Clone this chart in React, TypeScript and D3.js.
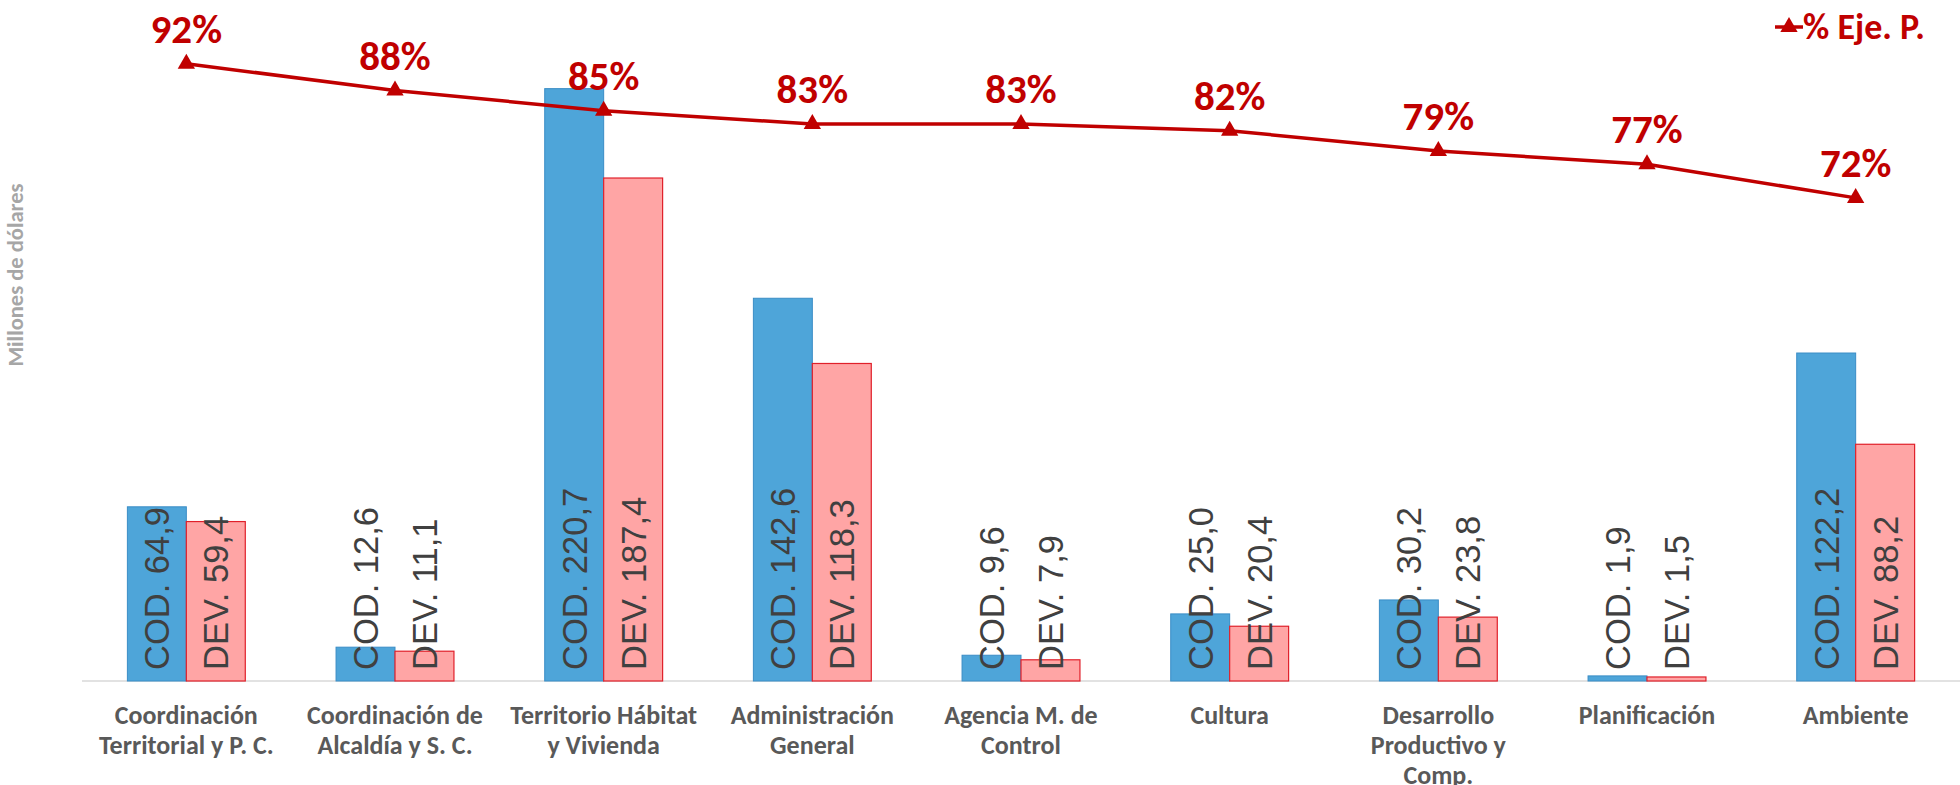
import React from "react";
import * as d3 from "d3";

const categories: string[][] = [
  ["Coordinación", "Territorial y P. C."],
  ["Coordinación de", "Alcaldía y S. C."],
  ["Territorio Hábitat", "y Vivienda"],
  ["Administración", "General"],
  ["Agencia M. de", "Control"],
  ["Cultura"],
  ["Desarrollo", "Productivo y", "Comp."],
  ["Planificación"],
  ["Ambiente"],
];
const codValues = [64.9, 12.6, 220.7, 142.6, 9.6, 25.0, 30.2, 1.9, 122.2];
const devValues = [59.4, 11.1, 187.4, 118.3, 7.9, 20.4, 23.8, 1.5, 88.2];
const pctValues = [92, 88, 85, 83, 83, 82, 79, 77, 72];
const seriesNames = ["COD.", "DEV."];
const lineName = "% Eje. P.";
const yTitle = "Millones de dólares";

const W = 1960;
const H = 785;
const BASE = 681;
const TOP = 10;
const LEFT = 82;
const RIGHT = 1960;

const fmt = (v: number) => v.toFixed(1).replace(".", ",");

export default function App() {
  const ids = categories.map((_, i) => String(i));
  const x = d3.scaleBand<string>().domain(ids).range([LEFT, RIGHT]).paddingInner(0.435).paddingOuter(0.2175);
  const xi = d3.scaleBand<string>().domain(["cod", "dev"]).range([0, x.bandwidth()]);
  const y = d3.scaleLinear().domain([0, 250]).range([BASE, TOP]);
  const y2 = d3.scaleLinear().domain([0, 100]).range([BASE, TOP]);
  const cx = (i: number) => (x(String(i)) as number) + x.bandwidth() / 2;
  const line = d3.line<number>().x((_, i) => cx(i)).y((d) => y2(d));
  const tri = d3.symbol().type(d3.symbolTriangle).size(130)() as string;

  const bold = "Carlito, Calibri, 'Liberation Sans Narrow', Lato, sans-serif";
  const red = "#C00000";

  return (
    <svg width={W} height={H} style={{ position: "absolute", left: 0, top: 0, background: "#fff" }}>
      <rect width={W} height={H} fill="#fff" />
      <text
        transform={`translate(23,275) rotate(-90)`}
        textAnchor="middle"
        fontFamily={bold}
        fontWeight={700}
        fontSize={22.5}
        fill="#A6A6A6"
      >
        {yTitle}
      </text>
      <line x1={LEFT} x2={RIGHT} y1={BASE} y2={BASE} stroke="#D9D9D9" strokeWidth={1.5} />
      {ids.map((id, i) => {
        const x0 = x(id) as number;
        const bw = xi.bandwidth();
        return (
          <g key={id}>
            <rect x={x0 + (xi("cod") as number)} y={y(codValues[i])} width={bw} height={BASE - y(codValues[i])} fill="#4EA5D9" stroke="#3A8DC6" strokeWidth={1} />
            <rect x={x0 + (xi("dev") as number)} y={y(devValues[i])} width={bw} height={BASE - y(devValues[i])} fill="#FFA5A5" stroke="#E0202A" strokeWidth={1.2} />
            {[codValues[i], devValues[i]].map((v, k) => {
              const bx = x0 + (xi(k === 0 ? "cod" : "dev") as number) + bw / 2;
              return (
                <text
                  key={k}
                  transform={`translate(${bx},${BASE - 11}) rotate(-90)`}
                  dy="0.36em"
                  fontFamily="'Liberation Sans', Arial, sans-serif"
                  fontSize={34.5}
                  fill="#404040"
                >
                  {`${seriesNames[k]} ${fmt(v)}`}
                </text>
              );
            })}
            <text textAnchor="middle" fontFamily={bold} fontWeight={700} fontSize={26} fill="#595959">
              {categories[i].map((ln, j) => (
                <tspan key={j} x={cx(i)} y={724 + j * 30}>
                  {ln}
                </tspan>
              ))}
            </text>
          </g>
        );
      })}
      <path d={line(pctValues) as string} fill="none" stroke={red} strokeWidth={3.5} />
      {pctValues.map((p, i) => (
        <g key={i}>
          <path d={tri} transform={`translate(${cx(i)},${y2(p)})`} fill={red} />
          <text x={cx(i)} y={y2(p) - 21} textAnchor="middle" fontFamily={bold} fontWeight={700} fontSize={41} fill={red}>
            {`${p}%`}
          </text>
        </g>
      ))}
      <line x1={1775} x2={1803} y1={27} y2={27} stroke={red} strokeWidth={3.5} />
      <path d={tri} transform={`translate(1789,27)`} fill={red} />
      <text x={1803} y={39} fontFamily={bold} fontWeight={700} fontSize={36} fill={red}>
        {lineName}
      </text>
    </svg>
  );
}
